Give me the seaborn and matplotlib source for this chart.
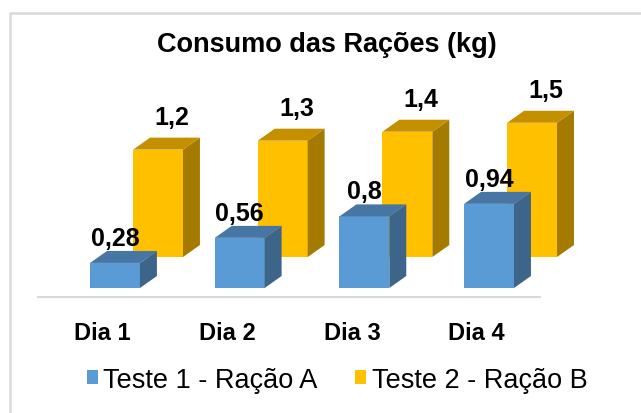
import matplotlib
matplotlib.use("Agg")
import matplotlib.pyplot as plt
import seaborn as sns
import pandas as pd
from matplotlib.patches import Polygon, Rectangle, Patch

# --- data ---
dias = ['Dia 1', 'Dia 2', 'Dia 3', 'Dia 4']
series = ['Teste 1 - Ração A', 'Teste 2 - Ração B']
racao_a = [0.28, 0.56, 0.8, 0.94]
racao_b = [1.2, 1.3, 1.4, 1.5]
labels_a = ['0,28', '0,56', '0,8', '0,94']
labels_b = ['1,2', '1,3', '1,4', '1,5']

front = {'Teste 1 - Ração A': '#5B9BD5', 'Teste 2 - Ração B': '#FFC000'}
top_c = {'Teste 1 - Ração A': '#4776A4', 'Teste 2 - Ração B': '#C49000'}
side_c = {'Teste 1 - Ração A': '#3D6489', 'Teste 2 - Ração B': '#A47A00'}

df = pd.DataFrame({
    'Dia': dias * 2,
    'Serie': [series[0]] * 4 + [series[1]] * 4,
    'Consumo': racao_a + racao_b,
})

sns.set_style("white")
plt.rcParams['font.family'] = ['Liberation Sans', 'DejaVu Sans']
plt.rcParams['text.color'] = 'black'

fig = plt.figure(figsize=(6.41, 4.14), dpi=100)
# axes placed so 1 category = ~125 px, 1 kg = ~89.5 px
ax = fig.add_axes([30 / 641, 1 - 300 / 414, 580 / 641, 220 / 414])

sns.barplot(data=df, x='Dia', y='Consumo', hue='Serie', hue_order=series,
            palette=front, saturation=1, dodge=False, width=0.40, legend=False,
            ax=ax, linewidth=0)

# perspective: back row (Ração B) shifted right/up, depth of each box
back_dx, back_dy = 0.345, 0.346
dx, dy = 0.136, 0.134

n = len(dias)
all_labels = labels_a + labels_b
patches = list(ax.patches)
for k, p in enumerate(patches):
    serie = series[k // n]
    if serie == series[1]:
        p.set_x(p.get_x() + back_dx)
        p.set_y(back_dy)
        z, lx, ly = 1, 0.11, 0.156
    else:
        z, lx, ly = 3, 0.0, 0.067
    p.set_zorder(z)
    x0, y0, w, h = p.get_x(), p.get_y(), p.get_width(), p.get_height()
    side = Polygon([(x0 + w, y0), (x0 + w + dx, y0 + dy),
                    (x0 + w + dx, y0 + h + dy), (x0 + w, y0 + h)],
                   closed=True, facecolor=side_c[serie], edgecolor='none', zorder=z)
    top = Polygon([(x0, y0 + h), (x0 + dx, y0 + h + dy),
                   (x0 + w + dx, y0 + h + dy), (x0 + w, y0 + h)],
                  closed=True, facecolor=top_c[serie], edgecolor='none', zorder=z)
    ax.add_patch(side)
    ax.add_patch(top)
    ax.text(x0 + w / 2 + lx, y0 + h + dy + ly, all_labels[k], ha='center',
            va='baseline', fontsize=18, fontweight='bold', color='black',
            zorder=5)

ax.set_xlim(-0.682, 3.97)
ax.set_ylim(-0.123, 2.335)
ax.set_xticks([])
ax.set_yticks([])
ax.set_xlabel('')
ax.set_ylabel('')
# category labels (bold), under the floor line
for i, d in enumerate(dias):
    ax.text(i - 0.10, -0.37, d, ha='center', va='top', fontsize=17,
            fontweight='bold', color='black')

for s in ['top', 'right', 'left']:
    ax.spines[s].set_visible(False)
ax.spines['bottom'].set_position(('data', -0.1))
ax.spines['bottom'].set_bounds(-0.617, 3.41)
ax.spines['bottom'].set_color('#D9D9D9')
ax.spines['bottom'].set_linewidth(1.5)
ax.patch.set_alpha(0)

fig.text(326.5 / 641, 1 - 52 / 414, 'Consumo das Rações (kg)', ha='center',
         va='baseline', fontsize=19.5, fontweight='bold', color='black')

# chart frame
fig.patches.append(Rectangle((10 / 641, -0.1), 1.2, 1 - 14 / 414 + 0.1,
                             transform=fig.transFigure, fill=False,
                             edgecolor='#D9D9D9', linewidth=1.8))

handles = [Patch(facecolor=front[s], edgecolor='none') for s in series]
fig.legend(handles, series, loc='center', bbox_to_anchor=(337 / 641, 1 - 381 / 414),
           ncol=2, frameon=False, fontsize=19.5, handlelength=0.4, handleheight=0.4,
           handletextpad=0.2, columnspacing=1.4, labelcolor='black')

fig.savefig('out.png', dpi=100)
